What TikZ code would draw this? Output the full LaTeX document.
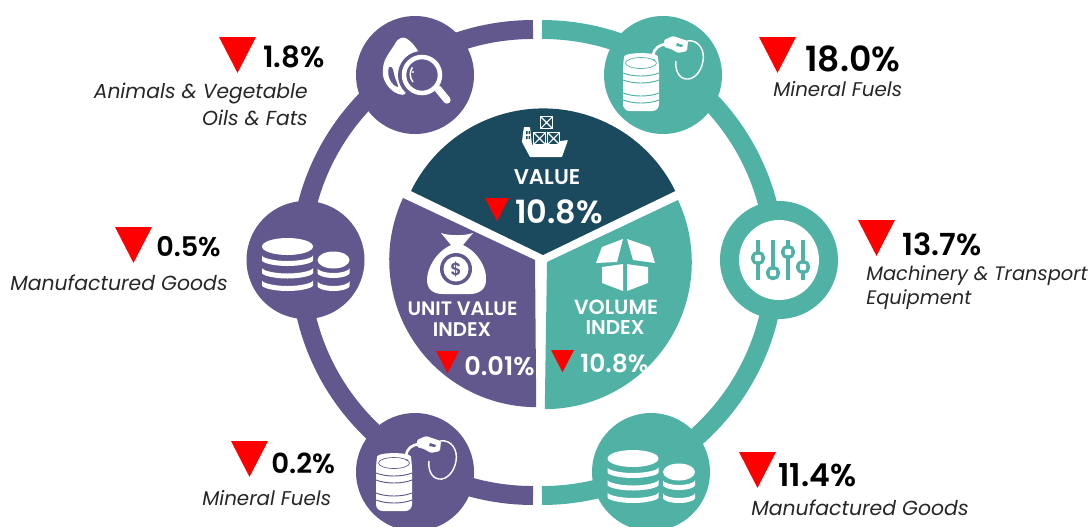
\documentclass[tikz,border=0pt]{standalone}
\usepackage{fontspec}
\setmainfont{Poppins}[BoldFont={Poppins SemiBold}]
\definecolor{pur}{HTML}{63588D}
\definecolor{teal2}{HTML}{50B1A5}
\definecolor{navy}{HTML}{1B4A5E}
\definecolor{lab}{HTML}{262626}
\tikzset{
  disc/.style={circle,inner sep=0pt,minimum size=88.5pt,fill=#1},
  pct/.style={anchor=west,inner sep=0pt,text=black,font=\fontsize{#1}{22}\selectfont\bfseries},
  lbl/.style={anchor=west,inner sep=0pt,text=lab,font=\fontsize{#1}{16}\selectfont\itshape},
  lblr/.style={anchor=east,inner sep=0pt,text=lab,font=\fontsize{#1}{16}\selectfont\itshape},
  whead/.style={inner sep=0pt,text=white,font=\fontsize{#1}{15}\selectfont\bfseries},
  wpct/.style={anchor=west,inner sep=0pt,text=white,font=\fontsize{#1}{17}\selectfont\bfseries},
}
\newcommand{\redtri}[3]{\fill[red] (#1,#2) -- ({#1+#3},#2) -- ({#1+#3/2},{#2+#3*0.97}) -- cycle;}
\newcommand{\coinband}[4]{% xc rx ybottom ry
  \fill[white,rounded corners=1pt] ({#1-#2},{#3-#4}) arc[start angle=180,end angle=0,x radius=#2,y radius=#4]
   -- ({#1+#2},{#3-#4-5}) arc[start angle=0,end angle=180,x radius=#2,y radius=#4] -- cycle;}
\newcommand{\coinsicon}[2]{\begin{scope}[shift={(#1,#2)}]
  \fill[white] (-18,-13.5) ellipse[x radius=25.5,y radius=8.5];
  \coinband{-18}{25.5}{6}{7}\coinband{-18}{25.5}{18.5}{7}\coinband{-18}{25.5}{31}{7}
  \fill[white] (28,0) ellipse[x radius=16,y radius=8.5];
  \coinband{28}{16}{18}{6}\coinband{28}{16}{31}{6}
\end{scope}}
\newcommand{\barrelicon}[3]{\begin{scope}[shift={(#1,#2)}]
  \fill[white,rounded corners=5pt] (-40,-12) .. controls (-38,-23) and (-6,-23) .. (-4,-12) -- (-4,36) -- (-40,36) -- cycle;
  \draw[#3,line width=.5pt] (-22,-12) ellipse[x radius=15.5,y radius=5.5];
  \fill[#3] (-9,-15) circle[radius=1];
  \foreach \yy in {-2,5,18,25}
    \draw[#3,line width=.7pt] (-40,\yy) .. controls (-30,{\yy+4}) and (-14,{\yy+4}) .. (-4,\yy);
  \draw[white,line width=2pt] (-10,-19) .. controls (-9,-27) and (-4,-30) .. (3,-31);
  \fill[white,rounded corners=1pt] (1,-35) -- (10,-39) -- (25,-34) -- (24,-24) -- (15,-22) -- (8,-26) -- (1,-28) -- cycle;
  \fill[#3] (14,-32) -- (20,-30) -- (19,-28) -- (13,-29) -- cycle;
  \draw[white,line width=1.1pt] (24,-34) .. controls (36,-36) and (42,-24) .. (40,-14) .. controls (38,-2) and (30,5) .. (23,4) .. controls (15,3) and (12,-6) .. (13,-14);
\end{scope}}
\newcommand{\crate}[2]{\begin{scope}[shift={(#1,#2)}]
  \fill[white] (0,0) rectangle (13,13);
  \fill[navy] (1.2,1.2) rectangle (11.8,11.8);
  \draw[white,line width=.8pt] (1,1) -- (12,12) (12,1) -- (1,12);
\end{scope}}
\newcommand{\knob}[2]{\draw[teal2,line width=3.7pt] (#1,240) -- (#1,280);
  \fill[teal2,rounded corners=1.5pt] ({#1-7},{#2-3}) -- ({#1-3},{#2-7}) -- ({#1+3},{#2-7}) -- ({#1+7},{#2-3}) -- ({#1+7},{#2+3}) -- ({#1+3},{#2+7}) -- ({#1-3},{#2+7}) -- ({#1-7},{#2+3}) -- cycle;
  \fill[white,rounded corners=1pt] ({#1-3.2},{#2-3.2}) rectangle ({#1+3.2},{#2+3.2});}
\begin{document}
\begin{tikzpicture}[x=1pt,y=1pt,xscale=.75,yscale=-.75]
\useasboundingbox (0,0) rectangle (1091,526);
\clip (0,0) rectangle (1091,526);
% ring
\draw[pur,line width=14.2pt] (533,29.5) arc[start angle=270,end angle=90,radius=233];
\draw[teal2,line width=14.2pt] (542,29.5) arc[start angle=-90,end angle=90,radius=233];
% discs
\node[disc=pur] (dtl) at (415,75) {};
\node[disc=pur] (dl) at (305.5,260) {};
\node[disc=pur] (dbl) at (415,472) {};
\node[disc=teal2] (dtr) at (663,75) {};
\node[disc=teal2] (dr) at (779,260) {};
\node[disc=teal2] (dbr) at (651,472) {};
% sectors
\fill[navy] (543,255) -- (411,191) arc[start angle=206,end angle=334,radius=147] -- cycle;
\fill[pur] (535,260) -- (403,198) arc[start angle=205,end angle=90,radius=147] -- cycle;
\fill[teal2] (547,262) -- (678,200) arc[start angle=-25,end angle=90,radius=147] -- cycle;
% drop + magnifier
\fill[white,rounded corners=2pt] (403,37) .. controls (410,40) and (415,46) .. (420,54) -- (405,95) .. controls (392,94) and (382,82) .. (383,69) .. controls (384,58) and (393,48) .. (397,40) -- cycle;
\fill[pur] (389,67) .. controls (393,66) and (393,70) .. (394,74) .. controls (395,80) and (398,83) .. (398,87) .. controls (392,86) and (386,76) .. (389,67) -- cycle;
\fill[pur] (422,75) circle[radius=24];
\draw[white,line width=5.5pt,line cap=round] (438,89) -- (447,100);
\draw[white,line width=3.4pt] (422,75) circle[radius=18];
\draw[white,line width=1.1pt] (413,82) arc[start angle=140,end angle=215,radius=12];
\fill[white] (413,72) circle[radius=1.2];
\coinsicon{305.5}{260}
\coinsicon{651}{472}
\barrelicon{663}{75}{teal2}
\barrelicon{416}{475}{pur}
% sliders
\fill[white] (779,260) circle[radius=40];
\knob{758}{258}\knob{773}{273}\knob{788}{252}\knob{803}{267}
% ship
\fill[white,rounded corners=.5pt] (522,142) -- (523,133) -- (524,127) -- (530,127) -- (532,145) -- (568,140) -- (562,157) -- (530,157) -- cycle;
\fill[navy] (526,131) rectangle (527.5,134) (528.5,131) rectangle (530,134) (526,136) rectangle (527.5,139) (528.5,136) rectangle (530,139);
\crate{540}{116}\crate{533}{132}\crate{547}{132}
% bag
\fill[white] (441,233) .. controls (450,236) and (464,236) .. (473,233) -- (463,245) .. controls (478,252) and (487,268) .. (486,280) .. controls (486,290) and (478,294) .. (470,294) -- (443,294) .. controls (434,294) and (427,290) .. (427,280) .. controls (427,268) and (436,252) .. (451,245) -- cycle;
\fill[pur] (456,269) circle[radius=16];
\fill[white] (456,269) circle[radius=12.5];
\node[inner sep=0pt,text=pur,font=\fontsize{13}{13}\selectfont\bfseries] (dollar) at (456,269) {\$};
% box
\fill[white] (596,263) -- (602,247) -- (623,239) -- (617,262) -- cycle;
\fill[white] (627,239) -- (650,247) -- (655,263) -- (633,260) -- cycle;
\fill[white] (602,267) -- (623,264) -- (623,291) -- (602,283) -- cycle;
\fill[white] (627,264) -- (633,265) -- (648,267) -- (648,283) -- (627,291) -- cycle;
% centre texts
\node[whead=16] (tvalue) at (547,177) {VALUE};
\redtri{485}{198}{24}
\node[wpct=24] (pvalue) at (515,212) {10.8\%};
\node[whead=14.6] (tunit1) at (462.5,309) {UNIT VALUE};
\node[whead=14.8] (tunit2) at (462,330) {INDEX};
\redtri{436}{351}{23}
\node[wpct=19.2] (punit) at (464,366) {0.01\%};
\node[whead=15.4] (tvol1) at (616,307) {VOLUME};
\node[whead=15] (tvol2) at (615,327) {INDEX};
\redtri{551}{350}{23}
\node[wpct=18.7] (pvol) at (580,363) {10.8\%};
% outer labels
\redtri{219}{37}{37}
\node[pct=22] (p1) at (263,57) {1.8\%};
\node[lblr=15.2] (l1a) at (308,94) {Animals \& Vegetable};
\node[lblr=15.2] (l1b) at (308,118) {Oils \& Fats};
\redtri{759}{37}{37}
\node[pct=26] (p2) at (805,59) {18.0\%};
\node[lbl=14.9] (l2) at (773,89) {Mineral Fuels};
\redtri{858}{220}{37}
\node[pct=22.8] (p3) at (902,244) {13.7\%};
\node[lbl=14.6] (l3a) at (866,276) {Machinery \& Transport};
\node[lbl=14.6] (l3b) at (866,300) {Equipment};
\redtri{115}{227}{37}
\node[pct=20.3] (p4) at (156,247) {0.5\%};
\node[lbl=15.3] (l4) at (10,283) {Manufactured Goods};
\redtri{231}{441}{37}
\node[pct=20.7] (p5) at (271,463) {0.2\%};
\node[lbl=14.9] (l5) at (202,498) {Mineral Fuels};
\redtri{739}{452}{37}
\node[pct=23.6] (p6) at (778,475) {11.4\%};
\node[lbl=15.3] (l6) at (751,508) {Manufactured Goods};
\end{tikzpicture}
\end{document}
